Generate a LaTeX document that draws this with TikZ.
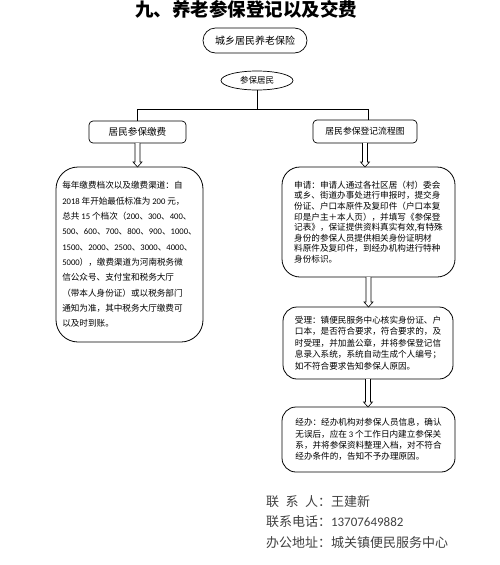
\documentclass[tikz,border=0pt]{standalone}
\usepackage{fontspec}
\setmainfont{Noto Sans CJK SC}
\newfontfamily\numfont{Carlito}
\usetikzlibrary{shapes.geometric,calc}
\newcommand\hollowarrow[2]{\draw[arr] let \p1=(#1.south), \p2=(#2.north) in
  (\x1-2.5pt,\y1) -- (\x1-2.5pt,\y2+5pt) -- (\x1-4.5pt,\y2+5pt) -- (\x1,\y2)
  -- (\x1+4.5pt,\y2+5pt) -- (\x1+2.5pt,\y2+5pt) -- (\x1+2.5pt,\y1);}
\begin{document}
\begin{tikzpicture}[x=1pt,y=-1pt,
  every node/.style={inner sep=0pt, outer sep=0pt, text=black},
  conn/.style={line width=0.8pt, draw=black},
  arr/.style={line width=0.6pt, draw=black, fill=white},
  lblbox/.style={draw, line width=0.7pt, rounded corners=4pt, minimum height=22pt},
  bigbox/.style={draw, line width=0.8pt, align=left},
  boxfont/.style={font=\fontsize{8.6}{#1}\selectfont},
  contact/.style={anchor=west, font=\fontsize{13}{15}\selectfont, text=black!75}]
\useasboundingbox (0,0) rectangle (500,565);
\node[font=\fontsize{18.5}{20}\selectfont\bfseries, text=black] (title) at (246,9) {九、养老参保登记以及交费};

\node[draw, line width=0.7pt, rounded corners=12.5pt, minimum width=104pt, minimum height=25pt,
  font=\fontsize{10}{12}\selectfont] (top) at (255,40.5) {城乡居民养老保险};
\node[draw, ellipse, line width=0.7pt, minimum width=72pt, minimum height=19pt,
  font=\fontsize{8.5}{10}\selectfont] (cbjm) at (257,80.5) {参保居民};

\node[lblbox, minimum width=97pt, font=\fontsize{9.6}{11}\selectfont] (jf) at (137.5,132) {居民参保缴费};
\node[lblbox, minimum width=104pt, minimum height=23pt, font=\fontsize{8.8}{10}\selectfont] (dj) at (365,131.5) {居民参保登记流程图};

\coordinate (j) at (257,109);
\coordinate (jl) at (137.5,109);
\coordinate (jr) at (368,109);
\draw[conn] (cbjm.south) -- (j);
\draw[conn] (jl) -- (jr);
\draw[conn] (jl) -- (jf.north);
\draw[conn] (jr) -- (jr |- dj.north);

\node[bigbox, rounded corners=22pt, minimum width=147pt, minimum height=175pt, boxfont=15.3] (left) at (129.5,254.5)
{每年缴费档次以及缴费渠道：自\\
{\numfont 2018} 年开始最低标准为 {\numfont 200} 元，\\
总共 {\numfont 15} 个档次（{\numfont 200}、{\numfont 300}、{\numfont 400}、\\
{\numfont 500}、{\numfont 600}、{\numfont 700}、{\numfont 800}、{\numfont 900}、{\numfont 1000}、\\
{\numfont 1500}、{\numfont 2000}、{\numfont 2500}、{\numfont 3000}、{\numfont 4000}、\\
{\numfont 5000}），缴费渠道为河南税务微\\
信公众号、支付宝和税务大厅\\
（带本人身份证）或以税务部门\\
通知为准，其中税务大厅缴费可\\
以及时到账。};

\node[bigbox, rounded corners=18pt, minimum width=173pt, minimum height=110pt, boxfont=10.6] (sq) at (368.5,222)
{申请：申请人通过各社区居（村）委会\\
或乡、街道办事处进行申报时，提交身\\
份证、户口本原件及复印件（户口本复\\
印是户主＋本人页），并填写《参保登\\
记表》，保证提供资料真实有效,有特殊\\
身份的参保人员提供相关身份证明材\\
料原件及复印件，到经办机构进行特种\\
身份标识。};

\node[bigbox, rounded corners=14pt, minimum width=170pt, minimum height=72pt, boxfont=11.5] (sl) at (368,343)
{受理：镇便民服务中心核实身份证、户\\
口本，是否符合要求，符合要求的，及\\
时受理，并加盖公章，并将参保登记信\\
息录入系统，系统自动生成个人编号；\\
如不符合要求告知参保人原因。};

\node[bigbox, rounded corners=14pt, minimum width=173pt, minimum height=65pt, boxfont=11.3] (jb) at (368.5,439.5)
{经办：经办机构对参保人员信息，确认\\
无误后，应在 {\numfont 3} 个工作日内建立参保关\\
系，并将参保资料整理入档，对不符合\\
经办条件的，告知不予办理原因。};

\hollowarrow{jf}{left}
\hollowarrow{dj}{sq}
\hollowarrow{sq}{sl}
\hollowarrow{sl}{jb}

\node[contact] (c1) at (266,502) {联\hspace{0.5em}系\hspace{0.5em}人：王建新};
\node[contact] (c2) at (266,522) {联系电话：{\numfont 13707649882}};
\node[contact] (c3) at (266,543) {办公地址：城关镇便民服务中心};
\end{tikzpicture}
\end{document}
